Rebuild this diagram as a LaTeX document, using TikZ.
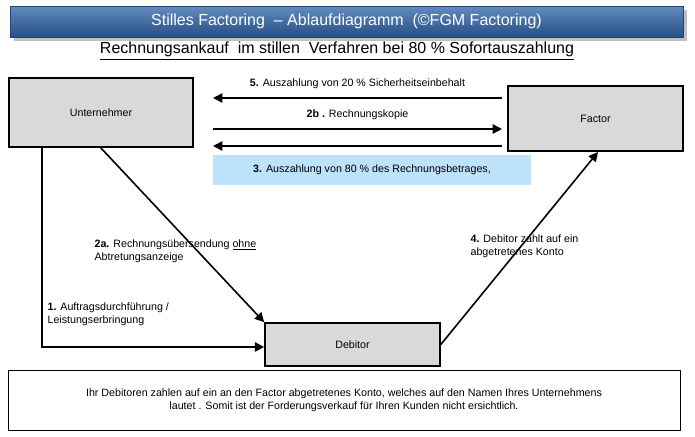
\documentclass[tikz,border=0pt]{standalone}
\usepackage{fontspec}
\setmainfont{Liberation Sans}
\usetikzlibrary{arrows.meta,shadows}
\definecolor{boxgray}{HTML}{D9D9D9}
\definecolor{lightblue}{HTML}{BDE3FA}
\definecolor{titleblue}{HTML}{2E64A8}
\tikzset{
  party/.style={draw, line width=1.2pt, fill=boxgray, font=\footnotesize},
  flow/.style={line width=1.2pt, -{Triangle[length=7pt,width=7pt]}},
  steplabel/.style={font=\footnotesize, align=left, inner sep=1pt}
}
\begin{document}
\begin{tikzpicture}[x=0.75pt, y=-0.75pt]
  \useasboundingbox (0,0) rectangle (695,436);
  % title bar
  \node (title) [draw=titleblue!70!black, top color=titleblue!75!white, bottom color=titleblue!80!black,
    drop shadow, minimum width=673*0.75pt, minimum height=31*0.75pt, text=white, font=\large]
    at (346.5,21.5) {Stilles Factoring \ – Ablaufdiagramm \ (©FGM Factoring)};
  \node (subtitle) [font=\large] at (337,51) {\underline{Rechnungsankauf\ \ im stillen\ \ Verfahren bei 80 \% Sofortauszahlung}};
  % parties
  \node (unt) [party, minimum width=184*0.75pt, minimum height=69*0.75pt] at (101,112.5) {Unternehmer};
  \node (fac) [party, minimum width=175*0.75pt, minimum height=65*0.75pt] at (595.5,118.5) {Factor};
  \node (deb) [party, minimum width=175*0.75pt, minimum height=43*0.75pt] at (352.5,344.5) {Debitor};
  \node (pay) [fill=lightblue, minimum width=318*0.75pt, minimum height=30*0.75pt, font=\footnotesize] at (372,170)
    {\textbf{3.} Auszahlung von 80 \% des Rechnungsbetrages,};
  \node (note) [draw, minimum width=672*0.75pt, minimum height=60*0.75pt, align=center, font=\footnotesize] at (344,400)
    {Ihr Debitoren zahlen auf ein an den Factor abgetretenes Konto, welches auf den Namen Ihres Unternehmens\\
     lautet . Somit ist der Forderungsverkauf für Ihren Kunden nicht ersichtlich.};
  % coordinates
  \coordinate (a5) at (502,98);  \coordinate (e5) at (213,98);
  \coordinate (a2b) at (213,129); \coordinate (e2b) at (502,129);
  \coordinate (a3) at (502,146);  \coordinate (e3) at (213,146);
  \coordinate (bend) at (42,347);
  % flows
  \draw [flow] (a5) -- node (l5) [steplabel, above=5pt] {\textbf{5.} Auszahlung von 20 \% Sicherheitseinbehalt} (e5);
  \draw [flow] (a2b) -- node (l2b) [steplabel, above=5pt] {\textbf{2b .} Rechnungskopie} (e2b);
  \draw [flow] (a3) -- (e3);
  \draw [flow] (unt.south west -| 42,0) -- (bend) -- (deb.west |- bend);
  \draw [flow] (100,147) -- (deb.north west);
  \draw [flow] (deb.east) -- (598,152);
  % labels
  \node (l2a) [steplabel, anchor=north west] at (93,238) {\textbf{2a.} Rechnungsübersendung \underline{ohne}\\Abtretungsanzeige};
  \node (l4) [steplabel, anchor=north west] at (469,233) {\textbf{4.} Debitor zahlt auf ein\\abgetretenes Konto};
  \node (l1) [steplabel, anchor=north west] at (46,301) {\textbf{1.} Auftragsdurchführung /\\Leistungserbringung};
\end{tikzpicture}
\end{document}
